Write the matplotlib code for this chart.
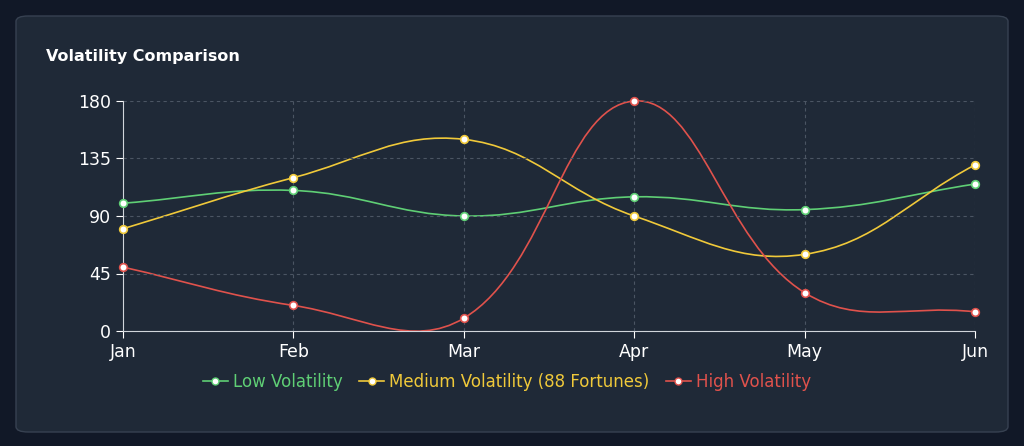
import numpy as np
import matplotlib
matplotlib.use("Agg")
import matplotlib.pyplot as plt
from matplotlib.path import Path
from matplotlib.patches import PathPatch, FancyBboxPatch
from matplotlib.lines import Line2D

months = ["Jan", "Feb", "Mar", "Apr", "May", "Jun"]
low = [100, 110, 90, 105, 95, 115]
medium = [80, 120, 150, 90, 60, 130]
high = [50, 20, 10, 180, 30, 15]
series_names = ["Low Volatility", "Medium Volatility (88 Fortunes)", "High Volatility"]
colors = ["#5fcf75", "#f0c93a", "#e0524c"]
yticks = [0, 45, 90, 135, 180]

fig = plt.figure(figsize=(10.24, 4.46), dpi=100)
fig.patch.set_facecolor("#111827")
card = FancyBboxPatch((16/1024, 14/446), 992/1024, 416/446, boxstyle="round,pad=0,rounding_size=0.012",
                      transform=fig.transFigure, facecolor="#1f2937", edgecolor="#374151", lw=1, zorder=-10)
fig.patches.append(card)
fig.text(46/1024, 1-56/446, "Volatility Comparison", color="white", fontsize=11.5, fontweight="bold", va="center", family="DejaVu Sans")

ax = fig.add_axes([123/1024, 115/446, 852/1024, 230/446])
ax.set_zorder(5)
ax.set_facecolor("none")
ax.set_xlim(0, 5)
ax.set_ylim(0, 180)
ax.set_xticks(range(6))
ax.set_xticklabels(months)
ax.set_yticks(yticks)
ax.tick_params(colors="white", labelsize=12.5, length=5)
ax.grid(True, color="#4b5563", ls=(0, (3, 3)), lw=0.8)
for s in ["top", "right"]:
    ax.spines[s].set_visible(False)
for s in ["left", "bottom"]:
    ax.spines[s].set_color("#d1d5db")

sx, sy = 852/5, 230/180
def spline(vals, t=0.4):
    pts = np.array([[i*sx, v*sy] for i, v in enumerate(vals)])
    n = len(pts)
    cps = []
    for i in range(n):
        p = pts[max(i-1, 0)]; c = pts[i]; nx = pts[min(i+1, n-1)]
        d01 = np.hypot(*(c-p)); d12 = np.hypot(*(nx-c))
        tot = d01 + d12 if d01 + d12 else 1
        s01 = d01/tot; s12 = d12/tot
        cps.append((c - t*s01*(nx-p), c + t*s12*(nx-p)))
    verts = [pts[0]]; codes = [Path.MOVETO]
    for i in range(n-1):
        verts += [cps[i][1], cps[i+1][0], pts[i+1]]
        codes += [Path.CURVE4]*3
    verts = np.array(verts) / [sx, sy]
    return Path(verts, codes)

for vals, col in zip([low, medium, high], colors):
    ax.add_patch(PathPatch(spline(vals), fill=False, edgecolor=col, lw=1.2, clip_on=False))
    ax.plot(range(6), vals, ls="none", marker="o", ms=5.5, mfc="white", mec=col, mew=1.2, clip_on=False, zorder=5)

handles = [Line2D([0], [0], color=c, lw=1.2, marker="o", ms=5, mfc="white", mec=c) for c in colors]
leg = fig.legend(handles, series_names, loc="center", bbox_to_anchor=(0.495, 1-382/446), ncol=3, frameon=False,
                 fontsize=12, handlelength=1.5, handletextpad=0.3, columnspacing=1.0)
for txt, c in zip(leg.get_texts(), colors):
    txt.set_color(c)

fig.savefig("out.png", facecolor=fig.get_facecolor())
